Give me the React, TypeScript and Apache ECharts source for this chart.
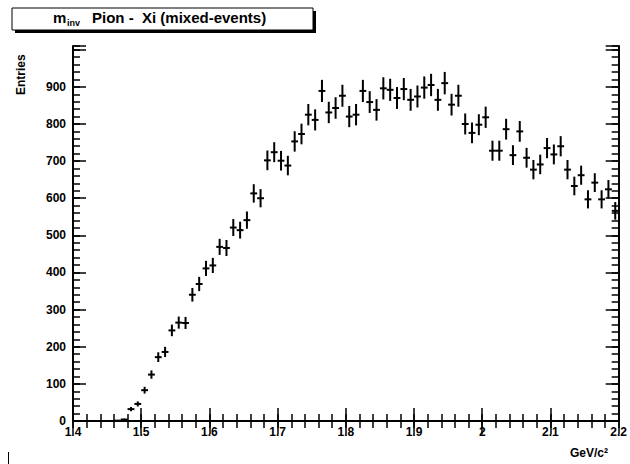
import React, { useEffect, useRef } from "react";
import * as echarts from "echarts";

// Histogram definition: 80 bins from 1.4 to 2.2 (GeV/c^2)
const BIN_START = 1.4;
const BIN_WIDTH = 0.01;
const counts = [
  0, 0, 0, 0, 0, 0, 1, 4, 32, 46,
  83, 125, 172, 186, 244, 265, 264, 340, 369, 411,
  419, 469, 466, 521, 514, 541, 613, 600, 702, 724,
  701, 688, 753, 773, 825, 811, 889, 831, 843, 876,
  820, 825, 889, 859, 838, 896, 892, 870, 894, 865,
  874, 898, 905, 865, 910, 852, 876, 800, 776, 798,
  818, 728, 728, 786, 716, 780, 709, 677, 691, 735,
  718, 740, 677, 633, 662, 597, 642, 597, 624, 566,
];
const X_MIN = 1.4;
const X_MAX = 2.2;
const X_STEP = 0.1;
const X_MINOR_STEP = 0.02;
const Y_MIN = 0;
const Y_MAX = 1010;
const Y_STEP = 100;
const Y_MINOR_STEP = 20;
const Y_LAST_LABEL = 900;

const TITLE_MAIN = "m";
const TITLE_SUB = "inv";
const TITLE_REST = "Pion -  Xi (mixed-events)";
const Y_TITLE = "Entries";
const X_TITLE = "GeV/c²";

const FONT = "'Liberation Sans', Arial, sans-serif";

export default function App() {
  const ref = useRef<HTMLDivElement>(null);
  useEffect(() => {
    if (!ref.current) return;
    const chart = echarts.init(ref.current, null, { renderer: "svg" });
    const points = counts
      .map((c, i) => [BIN_START + BIN_WIDTH * (i + 0.5), c, Math.sqrt(c)])
      .filter((p) => p[1] > 0);

    const major = (show: boolean) => ({
      axisLine: { show, lineStyle: { color: "#000", width: 2 } },
      axisTick: { show: true, inside: true, length: 13, lineStyle: { color: "#000", width: 1.5 } },
      splitLine: { show: false },
    });
    const minor = {
      axisLine: { show: false },
      axisTick: { show: true, inside: true, length: 7, lineStyle: { color: "#000", width: 1.5 } },
      axisLabel: { show: false },
      splitLine: { show: false },
    };
    const labelStyle = { color: "#000", fontFamily: FONT, fontSize: 12, fontWeight: "bold" as const };

    const xBase = { type: "value" as const, min: X_MIN, max: X_MAX };
    const yBase = { type: "value" as const, min: Y_MIN, max: Y_MAX };

    chart.setOption({
      animation: false,
      backgroundColor: "#fff",
      grid: { left: 73, right: 8, top: 46, bottom: 43, containLabel: false },
      xAxis: [
        { ...xBase, interval: X_STEP, position: "bottom", ...major(true),
          axisLabel: { ...labelStyle, margin: 5, showMaxLabel: true, showMinLabel: true } },
        { ...xBase, interval: X_STEP, position: "top", ...major(true), axisLabel: { show: false } },
        { ...xBase, interval: X_MINOR_STEP, position: "bottom", ...minor },
        { ...xBase, interval: X_MINOR_STEP, position: "top", ...minor },
      ],
      yAxis: [
        { ...yBase, interval: Y_STEP, position: "left", ...major(true),
          axisLabel: { ...labelStyle, margin: 7,
            formatter: (v: number) => (v <= Y_LAST_LABEL ? String(v) : "") } },
        { ...yBase, interval: Y_STEP, position: "right", ...major(true), axisLabel: { show: false } },
        { ...yBase, interval: Y_MINOR_STEP, position: "left", ...minor },
        { ...yBase, interval: Y_MINOR_STEP, position: "right", ...minor },
      ],
      series: [
        {
          type: "custom",
          xAxisIndex: 0,
          yAxisIndex: 0,
          clip: true,
          encode: { x: 0, y: 1 },
          data: points,
          renderItem: (params: any, api: any) => {
            const x = api.value(0);
            const y = api.value(1);
            const e = api.value(2);
            const c = api.coord([x, y]);
            const l = api.coord([x - BIN_WIDTH / 2, y]);
            const r = api.coord([x + BIN_WIDTH / 2, y]);
            const lo = api.coord([x, y - e]);
            const hi = api.coord([x, y + e]);
            const st = { stroke: "#000", lineWidth: 2 };
            return {
              type: "group",
              children: [
                { type: "line", shape: { x1: l[0], y1: c[1], x2: r[0], y2: c[1] }, style: st },
                { type: "line", shape: { x1: c[0], y1: lo[1], x2: c[0], y2: hi[1] }, style: st },
              ],
            };
          },
        },
      ],
      graphic: [
        { type: "rect", shape: { x: 15, y: 11, width: 301, height: 22 }, style: { fill: "#000" } },
        { type: "rect", shape: { x: 12, y: 8, width: 301, height: 22 }, style: { fill: "#fff", stroke: "#000", lineWidth: 1 } },
        { type: "text", x: 53, y: 10, style: { text: TITLE_MAIN, fontFamily: FONT, fontSize: 15, fontWeight: "bold", fill: "#000" } },
        { type: "text", x: 67, y: 18, style: { text: TITLE_SUB, fontFamily: FONT, fontSize: 9, fontWeight: "bold", fill: "#000" } },
        { type: "text", x: 92, y: 10, style: { text: TITLE_REST, fontFamily: FONT, fontSize: 15, fontWeight: "bold", fill: "#000" } },
        {
          type: "text", x: 15, y: 95, rotation: Math.PI / 2,
          style: { text: Y_TITLE, fontFamily: FONT, fontSize: 12, fontWeight: "bold", fill: "#000", align: "left", verticalAlign: "top" },
        },
        {
          type: "text", x: 608, y: 447,
          style: { text: X_TITLE, fontFamily: FONT, fontSize: 12, fontWeight: "bold", fill: "#000", align: "right", verticalAlign: "top" },
        },
        { type: "line", shape: { x1: 8.5, y1: 452, x2: 8.5, y2: 464 }, style: { stroke: "#000", lineWidth: 1 } },
      ],
    });
    return () => chart.dispose();
  }, []);
  return <div ref={ref} style={{ position: "absolute", left: 0, top: 0, width: 630, height: 464, background: "#fff" }} />;
}
